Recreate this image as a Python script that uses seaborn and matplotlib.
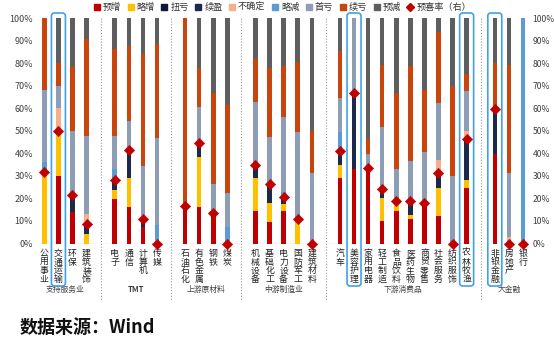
import matplotlib
matplotlib.use("Agg")
import matplotlib.pyplot as plt
import matplotlib.transforms as mtransforms
from matplotlib.lines import Line2D
from matplotlib.patches import FancyBboxPatch
import numpy as np
import pandas as pd
import seaborn as sns

# ---- data (share of companies by earnings-forecast type, %) ----
industries = ["公用事业", "交通运输", "环保", "建筑装饰",
              "电子", "通信", "计算机", "传媒",
              "石油石化", "有色金属", "钢铁", "煤炭",
              "机械设备", "基础化工", "电力设备", "国防军工", "建筑材料",
              "汽车", "美容护理", "家用电器", "轻工制造", "食品饮料",
              "医药生物", "商贸零售", "社会服务", "纺织服饰", "农林牧渔",
              "非银金融", "房地产", "银行"]
group_names = ["支持服务业", "TMT", "上游原材料", "中游制造业", "下游消费品", "大金融"]
group_sizes = [4, 4, 4, 5, 10, 3]
highlight = ["交通运输", "美容护理", "农林牧渔", "非银金融"]

yuzeng   = [0, 30, 14.1, 0, 19.6, 16.4, 7.2, 0, 16.7, 16.4, 13.4, 0, 14.4, 9.7, 14.4, 0, 0,
            29, 33, 33.4, 10, 14.4, 10.7, 18.1, 12.4, 0, 24.8, 39.7, 0, 0]
luezeng  = [31.6, 20, 0, 4, 4.2, 12.6, 0, 0, 0, 22.2, 0, 0, 14.6, 8.4, 3.1, 10.9, 0,
            5.9, 0, 0, 10, 3.4, 2.0, 0, 12.4, 0, 3.4, 0, 0, 0]
niukui   = [0] * 30
xuying   = [0, 0, 7.3, 4.7, 4.4, 12.5, 3.7, 0, 0, 5.9, 0, 0, 5.9, 8.2, 3.3, 0, 0,
            6.3, 33.7, 0, 4, 1.1, 6.2, 0, 6.4, 0, 18.2, 20.2, 0, 0]
buqueding = [0, 10, 0, 4.3, 0, 0, 1.6, 1.5, 0, 0, 0, 0, 0, 0, 0, 0, 0,
             1.3, 0, 0, 0, 0, 0, 0, 5.9, 0, 3.6, 0, 3, 0]
luejian  = [4.5, 0, 0, 0, 4.8, 0, 0, 6.5, 0, 0, 0, 7.5, 0, 0, 2.0, 0, 0,
            7.2, 0, 0, 1.0, 0, 0, 0, 0, 0, 0, 0, 0, 100]
shoukui  = [32.1, 10, 28.6, 34.7, 14.7, 13, 21.9, 38.8, 0, 16.3, 13, 15.1, 27.8, 20.9, 33.5, 38.8, 31.2,
            14.8, 33.3, 6.2, 26.6, 14.1, 17.9, 22.4, 25.2, 30.1, 17.7, 0, 28.2, 0]
xukui    = [31.8, 10, 28.5, 43.3, 38.5, 33.2, 49.6, 41.6, 83.3, 17, 40.3, 38.9, 19.1, 30.8, 22.7, 30.8, 18.8,
            21.1, 0, 6.8, 27.7, 33.7, 42.2, 27.7, 31.5, 39.9, 7.4, 20.1, 48.1, 0]
yujian   = [0, 20, 21.5, 9, 13.8, 12.3, 16, 11.6, 0, 22.2, 33.3, 38.5, 18.2, 22, 21, 19.5, 50,
            14.4, 0, 53.6, 20.7, 33.3, 21, 31.8, 6.2, 30, 24.9, 20, 20.7, 0]
yuxi_rate = [31.6, 50, 21.4, 8.7, 28.2, 41.5, 10.9, 0, 16.7, 44.5, 13.4, 0, 34.9, 26.3, 20.8, 10.9, 0,
             41.2, 66.7, 33.4, 24, 18.9, 18.9, 18.1, 31.2, 0, 46.4, 59.9, 0, 0]

series_names = ["预增", "略增", "扭亏", "续盈", "不确定", "略减", "首亏", "续亏", "预减"]
series_vals = [yuzeng, luezeng, niukui, xuying, buqueding, luejian, shoukui, xukui, yujian]
series_colors = ["#C00000", "#FFC000", "#0D1838", "#1B2A4C", "#F7AE8A",
                 "#5B9BD5", "#8C9DB5", "#C8460D", "#5E5E5E"]
rate_color = "#C00000"
text_color = "#404040"

sns.set_theme(style="white")
plt.rcParams["font.family"] = ["Noto Sans CJK SC", "DejaVu Sans"]

# bar slots: one empty slot between industry groups
slots, gap_slots = [], []
pos = 0
for gi, n in enumerate(group_sizes):
    slots.extend(range(pos, pos + n))
    pos += n
    if gi < len(group_sizes) - 1:
        gap_slots.append(pos)
        pos += 1

fig = plt.figure(figsize=(5.54, 3.44), dpi=100)
W, H = 554, 344
ax = fig.add_axes([37.3 / W, 100.5 / H, 492.7 / W, 225.2 / H])

# stacked bars: draw cumulative totals from the top layer downwards
cum = np.cumsum(np.array(series_vals, dtype=float), axis=0)
for i in reversed(range(len(series_names))):
    df = pd.DataFrame({"x": slots, "y": cum[i]})
    sns.barplot(data=df, x="x", y="y", native_scale=True, color=series_colors[i],
                saturation=1, width=0.32, errorbar=None, linewidth=0, ax=ax, zorder=2)

sns.scatterplot(x=slots, y=yuxi_rate, marker="D", s=28, color=rate_color,
                edgecolor=rate_color, linewidth=0.4, ax=ax, zorder=5, clip_on=False, legend=False)

ax.axhline(0, color="#D9D9D9", lw=1.0, zorder=1)
ax.set_xlim(-0.5, slots[-1] + 0.5)
ax.set_ylim(0, 100)
for s in ax.spines.values():
    s.set_visible(False)

yt = list(range(0, 101, 10))
ax.set_yticks(yt)
ax.set_yticklabels([f"{v}%" for v in yt], fontsize=6.5, color=text_color)
ax.tick_params(axis="y", length=0, pad=3)
ax.set_xticks(slots)
ax.set_xticklabels(["\n".join(n) for n in industries], fontsize=6.4,
                   color="#222222", linespacing=0.93, va="top")
ax.tick_params(axis="x", length=0, pad=4)
ax.set_xlabel("")
ax.set_ylabel("")

ax2 = ax.twinx()
ax2.set_ylim(0, 100)
ax2.set_yticks(yt)
ax2.set_yticklabels([f"{v}%" for v in yt], fontsize=6.2, color=text_color)
ax2.tick_params(axis="y", length=0, pad=2)
ax2.grid(False)
for s in ax2.spines.values():
    s.set_visible(False)
ax.grid(False)

# dotted separators between groups
blend = mtransforms.blended_transform_factory(ax.transData, ax.transAxes)
for g in gap_slots:
    ax.add_line(Line2D([g, g], [1.0, -0.25], transform=blend, color="#9A9A9A",
                       lw=0.8, ls=(0, (1, 1.6)), clip_on=False))

# group captions
start = 0
for name, n in zip(group_names, group_sizes):
    center = (slots[start] + slots[start + n - 1]) / 2
    ax.text(center, -0.206, name, transform=blend, ha="center", va="center",
            fontsize=5.6, color=text_color,
            fontweight="bold" if name == "TMT" else "normal")
    start += n

# rounded frames around highlighted industries
fig.canvas.draw()
for name in highlight:
    xs = slots[industries.index(name)]
    px, _ = ax.transData.transform((xs, 0))
    top, bottom = H - 13, H - 286
    box = FancyBboxPatch((px - 7, bottom), 14, top - bottom,
                         boxstyle="round,pad=0,rounding_size=3",
                         transform=mtransforms.IdentityTransform(),
                         fill=False, edgecolor="#3FA2E6", lw=1.2, zorder=10)
    fig.add_artist(box)

# legend
handles = [Line2D([], [], marker="s", ls="none", color=c, markersize=4.2)
           for c in series_colors]
handles.append(Line2D([], [], marker="D", ls="none", color=rate_color, markersize=3.6))
labels = series_names + ["预喜率（右）"]
fig.legend(handles, labels, loc="center", bbox_to_anchor=(282.5 / W, 1 - 7.5 / H),
           ncol=len(labels), frameon=False, fontsize=6.6, handlelength=0.6,
           handletextpad=0.35, columnspacing=0.75, borderpad=0, borderaxespad=0,
           labelcolor="#333333")

fig.text(20 / W, 1 - 327 / H, "数据来源：Wind", fontsize=13, fontweight="bold",
         color="#111111", ha="left", va="center")

fig.savefig("out.png", dpi=100)
